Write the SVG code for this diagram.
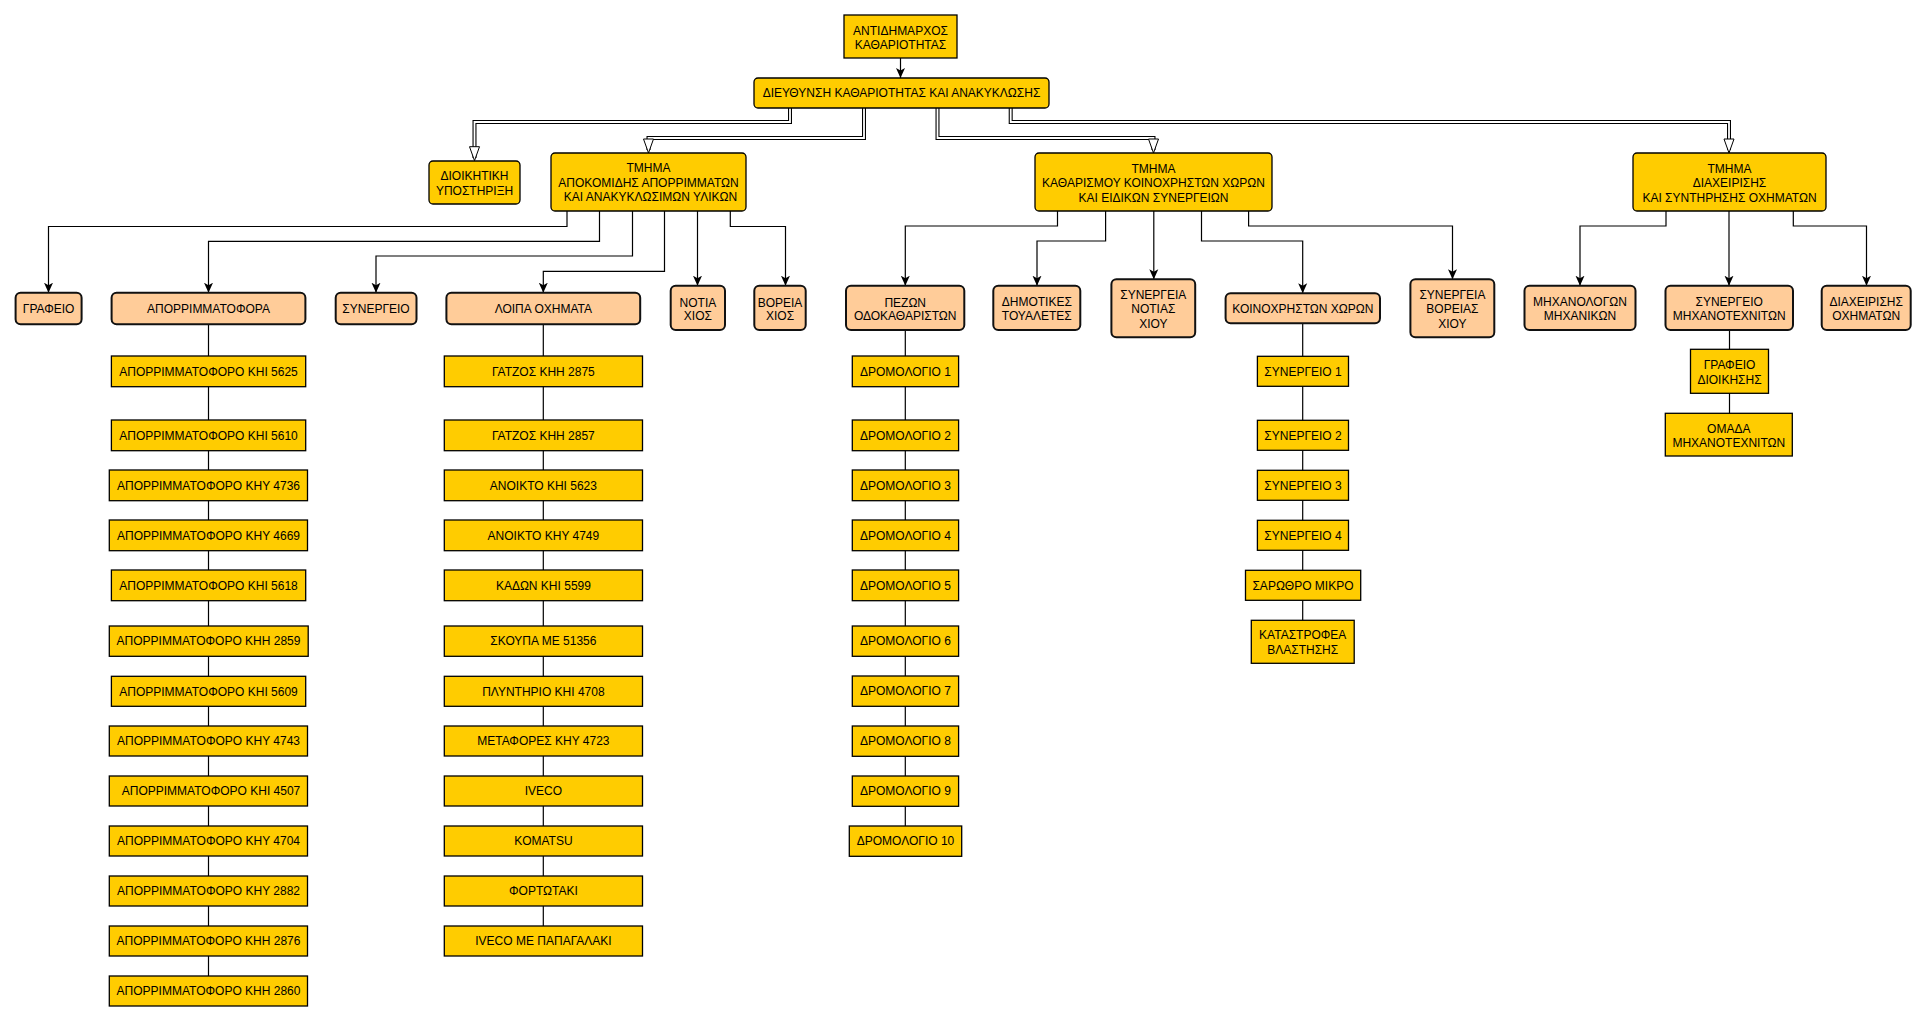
<svg xmlns="http://www.w3.org/2000/svg" width="1926" height="1022" viewBox="0 0 1926 1022">
<style>
text{font-family:"Liberation Sans",Arial,sans-serif;font-size:12px;fill:#000;text-anchor:middle}
.leaf{fill:#FFCC00;stroke:#000;stroke-width:1.3}
.yr{fill:#FFCC00;stroke:#000;stroke-width:1.3}
.or{fill:#FFCC99;stroke:#111;stroke-width:2}
.e{fill:none;stroke:#000;stroke-width:1.2;marker-end:url(#arr)}
.l{fill:none;stroke:#000;stroke-width:1.2}
.dbo{fill:none;stroke:#000;stroke-width:4}
.dbi{fill:none;stroke:#fff;stroke-width:1.8;marker-end:url(#open)}
</style>
<defs>
<marker id="arr" markerUnits="userSpaceOnUse" viewBox="0 0 10 10" markerWidth="10" markerHeight="10" refX="10" refY="5" orient="auto">
<path d="M0,0.5 L10,5 L0,9.5 L2.5,5 z" fill="#000"/>
</marker>
<marker id="open" markerUnits="userSpaceOnUse" viewBox="0 0 16 12" markerWidth="16" markerHeight="12" refX="15" refY="6" orient="auto">
<path d="M1,1 L15,6 L1,11 z" fill="#fff" stroke="#000" stroke-width="1"/>
</marker>
</defs>
<rect width="1926" height="1022" fill="#fff"/>
<g id="connectors">
<path class="e" d="M900.5,58 V78"/>
<path class="dbo" d="M790,108 V122 H474.5 V158"/>
<path class="dbi" d="M790,108 V122 H474.5 V160.7"/>
<path class="dbo" d="M864,108 V138 H648.5 V150"/>
<path class="dbi" d="M864,108 V138 H648.5 V153"/>
<path class="dbo" d="M937.5,108 V138 H1153.5 V150"/>
<path class="dbi" d="M937.5,108 V138 H1153.5 V153"/>
<path class="dbo" d="M1010.7,108 V122 H1729 V150"/>
<path class="dbi" d="M1010.7,108 V122 H1729 V153"/>
<path class="e" d="M567,211 V226.5 H48.5 V292.7"/>
<path class="e" d="M599.5,211 V241.3 H208.5 V292.7"/>
<path class="e" d="M632.5,211 V256 H376 V292.7"/>
<path class="e" d="M664.5,211 V271.3 H543.3 V292.7"/>
<path class="e" d="M697.5,211 V285.7"/>
<path class="e" d="M730.3,211 V226.5 H785.5 V285.7"/>
<path class="e" d="M1057.5,211 V226 H905.3 V285.7"/>
<path class="e" d="M1105.6,211 V241 H1037 V285.7"/>
<path class="e" d="M1153.8,211 V279.3"/>
<path class="e" d="M1201.5,211 V241 H1302.7 V293.3"/>
<path class="e" d="M1248.6,211 V226 H1452.5 V279.3"/>
<path class="e" d="M1666,211 V226 H1580 V285.7"/>
<path class="e" d="M1729,211 V285.7"/>
<path class="e" d="M1793.3,211 V226 H1866.5 V285.7"/>
<path class="l" d="M208.5,324.3 V976"/>
<path class="l" d="M543.3,324.3 V926"/>
<path class="l" d="M905.3,330 V826"/>
<path class="l" d="M1302.7,323.3 V620.3"/>
<path class="l" d="M1729.5,330 V413.3"/>
</g>
<g id="n_antidimarchos"><rect class="leaf" x="844" y="15" width="113" height="43"/><text x="900.5" y="34.5">ΑΝΤΙΔΗΜΑΡΧΟΣ</text><text x="900.5" y="49">ΚΑΘΑΡΙΟΤΗΤΑΣ</text></g>
<g id="n_dieythinsi"><rect class="yr" x="754" y="78" width="295" height="30" rx="4"/><text x="901.5" y="97.3">ΔΙΕΥΘΥΝΣΗ ΚΑΘΑΡΙΟΤΗΤΑΣ ΚΑΙ ΑΝΑΚΥΚΛΩΣΗΣ</text></g>
<g id="n_dioikitiki"><rect class="yr" x="429" y="161" width="91" height="43" rx="4"/><text x="474.5" y="180">ΔΙΟΙΚΗΤΙΚΗ</text><text x="474.5" y="194.5">ΥΠΟΣΤΗΡΙΞΗ</text></g>
<g id="n_tmima_apokomidis"><rect class="yr" x="551" y="153" width="195" height="58" rx="4"/><text x="648.5" y="172">ΤΜΗΜΑ</text><text x="648.5" y="186.5">ΑΠΟΚΟΜΙΔΗΣ ΑΠΟΡΡΙΜΜΑΤΩΝ</text><text x="650.5" y="201">ΚΑΙ ΑΝΑΚΥΚΛΩΣΙΜΩΝ ΥΛΙΚΩΝ</text></g>
<g id="n_tmima_katharismou"><rect class="yr" x="1035" y="153" width="237" height="58" rx="4"/><text x="1153.5" y="172.5">ΤΜΗΜΑ</text><text x="1153.5" y="187">ΚΑΘΑΡΙΣΜΟΥ ΚΟΙΝΟΧΡΗΣΤΩΝ ΧΩΡΩΝ</text><text x="1153.5" y="201.5">ΚΑΙ ΕΙΔΙΚΩΝ ΣΥΝΕΡΓΕΙΩΝ</text></g>
<g id="n_tmima_diaxeirisis"><rect class="yr" x="1633" y="153" width="193" height="58" rx="4"/><text x="1729.5" y="172.5">ΤΜΗΜΑ</text><text x="1729.5" y="187">ΔΙΑΧΕΙΡΙΣΗΣ</text><text x="1729.5" y="201.5">ΚΑΙ ΣΥΝΤΗΡΗΣΗΣ ΟΧΗΜΑΤΩΝ</text></g>
<g id="n_grafeio"><rect class="or" x="15.6" y="292.7" width="66" height="31.6" rx="5"/><text x="48.6" y="312.8">ΓΡΑΦΕΙΟ</text></g>
<g id="n_aporrimmatofora"><rect class="or" x="111.6" y="292.7" width="193.8" height="31.6" rx="5"/><text x="208.5" y="312.8">ΑΠΟΡΡΙΜΜΑΤΟΦΟΡΑ</text></g>
<g id="n_synergeio"><rect class="or" x="335.7" y="292.7" width="80.8" height="31.6" rx="5"/><text x="376" y="312.8">ΣΥΝΕΡΓΕΙΟ</text></g>
<g id="n_loipa"><rect class="or" x="446.4" y="292.7" width="193.8" height="31.6" rx="5"/><text x="543.3" y="312.8">ΛΟΙΠΑ ΟΧΗΜΑΤΑ</text></g>
<g id="n_notia"><rect class="or" x="670.7" y="285.7" width="54.3" height="44.3" rx="5"/><text x="697.9" y="306.5">ΝΟΤΙΑ</text><text x="697.9" y="320">ΧΙΟΣ</text></g>
<g id="n_voreia"><rect class="or" x="754.3" y="285.7" width="51.4" height="44.3" rx="5"/><text x="780" y="306.5">ΒΟΡΕΙΑ</text><text x="780" y="320">ΧΙΟΣ</text></g>
<g id="n_pezon"><rect class="or" x="846" y="285.7" width="118.3" height="44.3" rx="5"/><text x="905.2" y="306.5">ΠΕΖΩΝ</text><text x="905.2" y="320">ΟΔΟΚΑΘΑΡΙΣΤΩΝ</text></g>
<g id="n_dimotikes"><rect class="or" x="993.3" y="285.7" width="87" height="44.3" rx="5"/><text x="1036.8" y="305.5">ΔΗΜΟΤΙΚΕΣ</text><text x="1036.8" y="320">ΤΟΥΑΛΕΤΕΣ</text></g>
<g id="n_syn_notias"><rect class="or" x="1111.4" y="279.3" width="83.8" height="58" rx="5"/><text x="1153.3" y="298.7">ΣΥΝΕΡΓΕΙΑ</text><text x="1153.3" y="313.3">ΝΟΤΙΑΣ</text><text x="1153.3" y="328">ΧΙΟΥ</text></g>
<g id="n_koinoxriston"><rect class="or" x="1225.6" y="293.3" width="154.4" height="30" rx="5"/><text x="1302.8" y="312.6">ΚΟΙΝΟΧΡΗΣΤΩΝ ΧΩΡΩΝ</text></g>
<g id="n_syn_voreias"><rect class="or" x="1410.4" y="279.3" width="83.9" height="58" rx="5"/><text x="1452.4" y="298.7">ΣΥΝΕΡΓΕΙΑ</text><text x="1452.4" y="313.3">ΒΟΡΕΙΑΣ</text><text x="1452.4" y="328">ΧΙΟΥ</text></g>
<g id="n_mixanologon"><rect class="or" x="1524.5" y="285.7" width="111" height="44.3" rx="5"/><text x="1580" y="305.5">ΜΗΧΑΝΟΛΟΓΩΝ</text><text x="1580" y="320">ΜΗΧΑΝΙΚΩΝ</text></g>
<g id="n_syn_mixanotexniton"><rect class="or" x="1665.5" y="285.7" width="127.5" height="44.3" rx="5"/><text x="1729.2" y="305.5">ΣΥΝΕΡΓΕΙΟ</text><text x="1729.2" y="320">ΜΗΧΑΝΟΤΕΧΝΙΤΩΝ</text></g>
<g id="n_diaxeirisi_oximaton"><rect class="or" x="1821.7" y="285.7" width="89" height="44.3" rx="5"/><text x="1866.2" y="305.5">ΔΙΑΧΕΙΡΙΣΗΣ</text><text x="1866.2" y="320">ΟΧΗΜΑΤΩΝ</text></g>
<g id="n_ap_5625"><rect class="leaf" x="111.4" y="356" width="194.3" height="30.7"/><text x="208.5" y="375.6">ΑΠΟΡΡΙΜΜΑΤΟΦΟΡΟ ΚΗΙ 5625</text></g>
<g id="n_ap_5610"><rect class="leaf" x="111.4" y="420" width="194.3" height="30.7"/><text x="208.5" y="439.6">ΑΠΟΡΡΙΜΜΑΤΟΦΟΡΟ ΚΗΙ 5610</text></g>
<g id="n_ap_4736"><rect class="leaf" x="109.3" y="470" width="198.2" height="30.7"/><text x="208.5" y="489.6">ΑΠΟΡΡΙΜΜΑΤΟΦΟΡΟ ΚΗΥ 4736</text></g>
<g id="n_ap_4669"><rect class="leaf" x="109.3" y="520" width="198.2" height="30.7"/><text x="208.5" y="539.6">ΑΠΟΡΡΙΜΜΑΤΟΦΟΡΟ ΚΗΥ 4669</text></g>
<g id="n_ap_5618"><rect class="leaf" x="111.4" y="570" width="194.3" height="30.7"/><text x="208.5" y="589.6">ΑΠΟΡΡΙΜΜΑΤΟΦΟΡΟ ΚΗΙ 5618</text></g>
<g id="n_ap_2859"><rect class="leaf" x="109.3" y="626" width="198.9" height="30.3"/><text x="208.5" y="645.4">ΑΠΟΡΡΙΜΜΑΤΟΦΟΡΟ ΚΗΗ 2859</text></g>
<g id="n_ap_5609"><rect class="leaf" x="111.4" y="676.3" width="194.3" height="30"/><text x="208.5" y="695.6">ΑΠΟΡΡΙΜΜΑΤΟΦΟΡΟ ΚΗΙ 5609</text></g>
<g id="n_ap_4743"><rect class="leaf" x="109.3" y="726" width="198.2" height="30"/><text x="208.5" y="745.3">ΑΠΟΡΡΙΜΜΑΤΟΦΟΡΟ ΚΗΥ 4743</text></g>
<g id="n_ap_4507"><rect class="leaf" x="109.3" y="776" width="198.2" height="30"/><text x="211" y="795.3">ΑΠΟΡΡΙΜΜΑΤΟΦΟΡΟ ΚΗΙ 4507</text></g>
<g id="n_ap_4704"><rect class="leaf" x="109.3" y="826" width="198.2" height="30"/><text x="208.5" y="845.3">ΑΠΟΡΡΙΜΜΑΤΟΦΟΡΟ ΚΗΥ 4704</text></g>
<g id="n_ap_2882"><rect class="leaf" x="109.3" y="876" width="198.2" height="30"/><text x="208.5" y="895.3">ΑΠΟΡΡΙΜΜΑΤΟΦΟΡΟ ΚΗΥ 2882</text></g>
<g id="n_ap_2876"><rect class="leaf" x="109.3" y="926" width="198.2" height="30"/><text x="208.5" y="945.3">ΑΠΟΡΡΙΜΜΑΤΟΦΟΡΟ ΚΗΗ 2876</text></g>
<g id="n_ap_2860"><rect class="leaf" x="109.3" y="976" width="198.2" height="30"/><text x="208.5" y="995.3">ΑΠΟΡΡΙΜΜΑΤΟΦΟΡΟ ΚΗΗ 2860</text></g>
<g id="n_gatzos_2875"><rect class="leaf" x="444.3" y="356" width="198.2" height="30.7"/><text x="543.4" y="375.6">ΓΑΤΖΟΣ ΚΗΗ 2875</text></g>
<g id="n_gatzos_2857"><rect class="leaf" x="444.3" y="420" width="198.2" height="30.7"/><text x="543.4" y="439.6">ΓΑΤΖΟΣ ΚΗΗ 2857</text></g>
<g id="n_anoikto_5623"><rect class="leaf" x="444.3" y="470" width="198.2" height="30.7"/><text x="543.4" y="489.6">ΑΝΟΙΚΤΟ ΚΗΙ 5623</text></g>
<g id="n_anoikto_4749"><rect class="leaf" x="444.3" y="520" width="198.2" height="30.7"/><text x="543.4" y="539.6">ΑΝΟΙΚΤΟ ΚΗΥ 4749</text></g>
<g id="n_kadon_5599"><rect class="leaf" x="444.3" y="570" width="198.2" height="30.7"/><text x="543.4" y="589.6">ΚΑΔΩΝ ΚΗΙ 5599</text></g>
<g id="n_skoupa"><rect class="leaf" x="444.3" y="626" width="198.2" height="30.3"/><text x="543.4" y="645.4">ΣΚΟΥΠΑ ΜΕ 51356</text></g>
<g id="n_plyntirio"><rect class="leaf" x="444.3" y="676.3" width="198.2" height="30"/><text x="543.4" y="695.6">ΠΛΥΝΤΗΡΙΟ ΚΗΙ 4708</text></g>
<g id="n_metafores"><rect class="leaf" x="444.3" y="726" width="198.2" height="30"/><text x="543.4" y="745.3">ΜΕΤΑΦΟΡΕΣ ΚΗΥ 4723</text></g>
<g id="n_iveco"><rect class="leaf" x="444.3" y="776" width="198.2" height="30"/><text x="543.4" y="795.3">IVECO</text></g>
<g id="n_komatsu"><rect class="leaf" x="444.3" y="826" width="198.2" height="30"/><text x="543.4" y="845.3">KOMATSU</text></g>
<g id="n_fortotaki"><rect class="leaf" x="444.3" y="876" width="198.2" height="30"/><text x="543.4" y="895.3">ΦΟΡΤΩΤΑΚΙ</text></g>
<g id="n_iveco_papagalaki"><rect class="leaf" x="444.3" y="926" width="198.2" height="30"/><text x="543.4" y="945.3">IVECO ΜΕ ΠΑΠΑΓΑΛΑΚΙ</text></g>
<g id="n_drom1"><rect class="leaf" x="852.3" y="356" width="106.3" height="30.7"/><text x="905.4" y="375.6">ΔΡΟΜΟΛΟΓΙΟ 1</text></g>
<g id="n_drom2"><rect class="leaf" x="852.3" y="420" width="106.3" height="30.7"/><text x="905.4" y="439.6">ΔΡΟΜΟΛΟΓΙΟ 2</text></g>
<g id="n_drom3"><rect class="leaf" x="852.3" y="470" width="106.3" height="30.7"/><text x="905.4" y="489.6">ΔΡΟΜΟΛΟΓΙΟ 3</text></g>
<g id="n_drom4"><rect class="leaf" x="852.3" y="520" width="106.3" height="30.7"/><text x="905.4" y="539.6">ΔΡΟΜΟΛΟΓΙΟ 4</text></g>
<g id="n_drom5"><rect class="leaf" x="852.3" y="570" width="106.3" height="30.7"/><text x="905.4" y="589.6">ΔΡΟΜΟΛΟΓΙΟ 5</text></g>
<g id="n_drom6"><rect class="leaf" x="852.3" y="626" width="106.3" height="30.3"/><text x="905.4" y="645.4">ΔΡΟΜΟΛΟΓΙΟ 6</text></g>
<g id="n_drom7"><rect class="leaf" x="852.3" y="676" width="106.3" height="30.3"/><text x="905.4" y="695.4">ΔΡΟΜΟΛΟΓΙΟ 7</text></g>
<g id="n_drom8"><rect class="leaf" x="852.3" y="726" width="106.3" height="30.3"/><text x="905.4" y="745.4">ΔΡΟΜΟΛΟΓΙΟ 8</text></g>
<g id="n_drom9"><rect class="leaf" x="852.3" y="776" width="106.3" height="30.3"/><text x="905.4" y="795.4">ΔΡΟΜΟΛΟΓΙΟ 9</text></g>
<g id="n_drom10"><rect class="leaf" x="849.3" y="826" width="112.4" height="30.3"/><text x="905.5" y="845.4">ΔΡΟΜΟΛΟΓΙΟ 10</text></g>
<g id="n_syn1"><rect class="leaf" x="1257.4" y="356.3" width="91.1" height="30"/><text x="1303" y="375.6">ΣΥΝΕΡΓΕΙΟ 1</text></g>
<g id="n_syn2"><rect class="leaf" x="1257.4" y="420.3" width="91.1" height="30"/><text x="1303" y="439.6">ΣΥΝΕΡΓΕΙΟ 2</text></g>
<g id="n_syn3"><rect class="leaf" x="1257.4" y="470.3" width="91.1" height="30"/><text x="1303" y="489.6">ΣΥΝΕΡΓΕΙΟ 3</text></g>
<g id="n_syn4"><rect class="leaf" x="1257.4" y="520.3" width="91.1" height="30"/><text x="1303" y="539.6">ΣΥΝΕΡΓΕΙΟ 4</text></g>
<g id="n_sarothro"><rect class="leaf" x="1245.5" y="570.3" width="115.2" height="30"/><text x="1303" y="589.6">ΣΑΡΩΘΡΟ ΜΙΚΡΟ</text></g>
<g id="n_katastrofea"><rect class="leaf" x="1251.3" y="620.3" width="102.9" height="43"/><text x="1302.7" y="639.3">ΚΑΤΑΣΤΡΟΦΕΑ</text><text x="1302.7" y="654">ΒΛΑΣΤΗΣΗΣ</text></g>
<g id="n_grafeio_dioikisis"><rect class="leaf" x="1690.5" y="349.3" width="78" height="44"/><text x="1729.5" y="369">ΓΡΑΦΕΙΟ</text><text x="1729.5" y="383.5">ΔΙΟΙΚΗΣΗΣ</text></g>
<g id="n_omada"><rect class="leaf" x="1665.3" y="413.3" width="127" height="42.7"/><text x="1728.8" y="432.5">ΟΜΑΔΑ</text><text x="1728.8" y="447">ΜΗΧΑΝΟΤΕΧΝΙΤΩΝ</text></g>
</svg>
